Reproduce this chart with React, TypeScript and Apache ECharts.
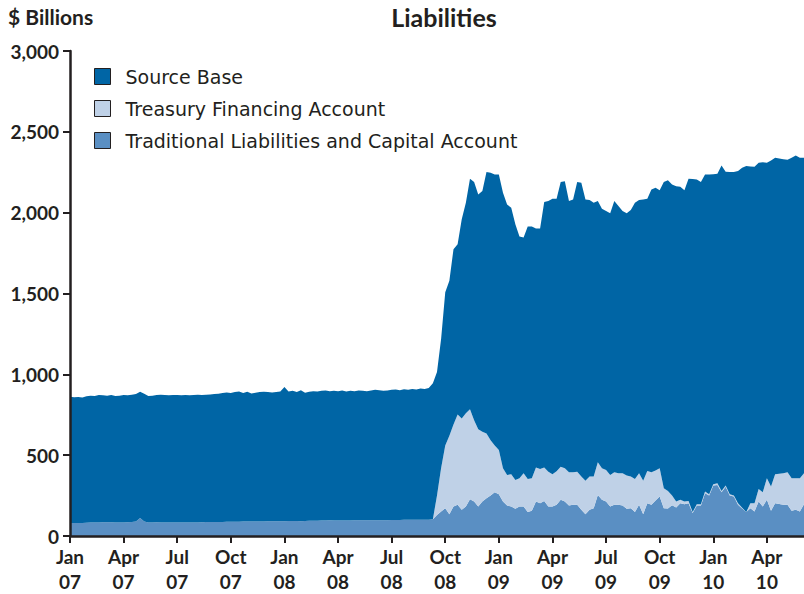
import React, { useEffect, useRef } from "react";
import * as echarts from "echarts";

// Weekly observations, first week of Jan 2007 through early Jun 2010 (179 weeks)
const quarterLabels = [
  "Jan\n07", "Apr\n07", "Jul\n07", "Oct\n07",
  "Jan\n08", "Apr\n08", "Jul\n08", "Oct\n08",
  "Jan\n09", "Apr\n09", "Jul\n09", "Oct\n09",
  "Jan\n10", "Apr\n10",
];
const weeksPerQuarter = 13;

const traditional = [
  80, 80, 81, 81, 82, 83, 84, 84, 85, 85, 85, 84, 84,
  84, 85, 86, 90, 112, 90, 84, 84, 85, 84, 84, 83, 83,
  84, 84, 83, 83, 83, 84, 85, 86, 86, 86, 87, 87, 88,
  88, 88, 88, 89, 89, 90, 90, 90, 90, 91, 91, 92, 92,
  92, 93, 93, 93, 92, 93, 94, 94, 95, 96, 96, 97, 96,
  96, 96, 96, 96, 97, 97, 97, 98, 97, 98, 98, 98, 98,
  99, 99, 99, 100, 100, 100, 100, 100, 100, 100, 104,
  130, 152, 172, 135, 183, 193, 162, 183, 228, 214, 183, 214, 234,
  251, 271, 259, 214, 189, 183, 168, 183, 183, 148, 156, 214, 203,
  217, 183, 183, 193, 224, 214, 189, 193, 193, 162, 135, 162, 172,
  254, 224, 214, 183, 193, 193, 189, 168, 172, 148, 193, 135, 203,
  193, 220, 245, 172, 170, 190, 177, 203, 197, 203, 142, 189, 189,
  265, 251, 312, 316, 271, 304, 251, 245, 193, 170, 148, 172, 152,
  214, 183, 224, 156, 203, 198, 193, 193, 156, 162, 152, 197,
];

const treasuryFinancing = [
  0, 0, 0, 0, 0, 0, 0, 0, 0, 0, 0, 0, 0,
  0, 0, 0, 0, 0, 0, 0, 0, 0, 0, 0, 0, 0,
  0, 0, 0, 0, 0, 0, 0, 0, 0, 0, 0, 0, 0,
  0, 0, 0, 0, 0, 0, 0, 0, 0, 0, 0, 0, 0,
  0, 0, 0, 0, 0, 0, 0, 0, 0, 0, 0, 0, 0,
  0, 0, 0, 0, 0, 0, 0, 0, 0, 0, 0, 0, 0,
  0, 0, 0, 0, 0, 0, 0, 0, 0, 0, 0,
  120, 268, 388, 485, 507, 559, 565, 577, 556, 502, 478, 431, 400,
  342, 289, 273, 205, 189, 199, 179, 174, 205, 205, 201, 209, 212,
  206, 215, 199, 207, 205, 205, 205, 201, 205, 206, 206, 206, 196,
  202, 195, 194, 195, 201, 195, 199, 206, 196, 205, 195, 206, 199,
  201, 185, 174, 124, 109, 60, 37, 21, 17, 14, 6, 8, 8,
  10, 8, 8, 10, 8, 8, 8, 6, 10, 5, 0, 31, 51,
  77, 88, 133, 150, 179, 187, 195, 201, 201, 195, 205, 191,
];

const sourceBase = [
  782, 778, 779, 775, 782, 785, 782, 788, 785, 783, 787, 782, 784,
  788, 785, 788, 788, 780, 790, 782, 784, 787, 790, 788, 787, 789,
  788, 786, 789, 787, 789, 790, 787, 788, 790, 792, 793, 797, 800,
  796, 802, 806, 795, 803, 792, 796, 800, 802, 799, 797, 798, 802,
  830, 801, 805, 797, 810, 793, 798, 802, 799, 802, 804, 799, 802,
  800, 804, 798, 802, 799, 803, 801, 798, 803, 806, 804, 800, 802,
  805, 807, 803, 808, 804, 810, 806, 812, 810, 815, 841,
  764, 800, 947, 959, 1084, 1053, 1232, 1302, 1426, 1473, 1452, 1489, 1617,
  1654, 1676, 1704, 1704, 1673, 1649, 1581, 1495, 1458, 1561, 1557, 1479, 1487,
  1643, 1674, 1704, 1686, 1760, 1776, 1678, 1688, 1791, 1817, 1741, 1710, 1694,
  1616, 1606, 1602, 1618, 1678, 1653, 1622, 1622, 1648, 1709, 1690, 1741, 1684,
  1750, 1749, 1720, 1893, 1922, 1924, 1950, 1936, 1925, 1993, 2060, 2008, 1992,
  1961, 1977, 1918, 1914, 2013, 1941, 1993, 2000, 2054, 2103, 2140, 2083, 2081,
  2017, 2041, 1951, 2016, 1957, 1950, 1942, 1934, 1982, 1996, 1982, 1951,
];

const yTicks = [0, 500, 1000, 1500, 2000, 2500, 3000];

const weekIndex = sourceBase.map((_, i) => String(i));

const INK = "#231f20";
const FONT = "Lato, 'Open Sans', sans-serif";
const LEGEND_FONT = "'DejaVu Sans', 'Open Sans', sans-serif";

export default function App() {
  const ref = useRef<HTMLDivElement>(null);
  useEffect(() => {
    if (!ref.current) return;
    const chart = echarts.init(ref.current, undefined, { renderer: "svg" });
    const isQuarter = (i: number) => i % weeksPerQuarter === 0 && i / weeksPerQuarter < quarterLabels.length;
    chart.setOption({
      animation: false,
      backgroundColor: "#ffffff",
      textStyle: { fontFamily: FONT, color: INK },
      title: {
        text: "Liabilities",
        left: 444,
        top: 4,
        padding: 0,
        textAlign: "center",
        textStyle: { fontFamily: FONT, fontSize: 25, fontWeight: "bold", color: INK },
      },
      graphic: [
        {
          type: "text",
          left: 8,
          top: 6,
          style: { text: "$ Billions", font: `bold 21px ${FONT}`, fill: INK },
        },
      ],
      legend: {
        orient: "vertical",
        left: 94,
        top: 67,
        padding: 0,
        itemWidth: 16,
        itemHeight: 16,
        itemGap: 13,
        icon: "rect",
        data: ["Source Base", "Treasury Financing Account", "Traditional Liabilities and Capital Account"],
        itemStyle: { borderColor: INK, borderWidth: 1 },
        textStyle: { fontFamily: LEGEND_FONT, fontSize: 19, lineHeight: 18, color: INK, padding: [0, 0, 0, 10] },
      },
      grid: { left: 70, right: 0, top: 51, bottom: 56, containLabel: false },
      xAxis: {
        type: "category",
        data: weekIndex,
        boundaryGap: false,
        z: 10,
        axisLine: { show: true, lineStyle: { color: INK, width: 2.5 } },
        axisTick: {
          show: true,
          length: 7,
          interval: (i: number) => isQuarter(i),
          lineStyle: { color: INK, width: 2 },
        },
        axisLabel: {
          interval: (i: number) => isQuarter(i),
          formatter: (_v: string, i: number) => quarterLabels[Math.floor(i / weeksPerQuarter)] ?? "",
          fontFamily: FONT,
          fontSize: 19,
          fontWeight: "bold",
          color: INK,
          lineHeight: 25,
          margin: 8,
        },
        splitLine: { show: false },
      },
      yAxis: {
        type: "value",
        min: yTicks[0],
        max: yTicks[yTicks.length - 1],
        interval: 500,
        z: 10,
        axisLine: { show: true, lineStyle: { color: INK, width: 2.5 } },
        axisTick: { show: true, length: 7, lineStyle: { color: INK, width: 2 } },
        axisLabel: {
          formatter: (v: number) => v.toLocaleString("en-US"),
          fontFamily: FONT,
          fontSize: 19,
          fontWeight: "bold",
          color: INK,
          margin: 11,
        },
        splitLine: { show: false },
      },
      series: [
        {
          name: "Traditional Liabilities and Capital Account",
          type: "line",
          stack: "total",
          data: traditional,
          symbol: "none",
          lineStyle: { width: 0 },
          itemStyle: { color: "#5a8fc3" },
          areaStyle: { color: "#5a8fc3", opacity: 1 },
        },
        {
          name: "Treasury Financing Account",
          type: "line",
          stack: "total",
          data: treasuryFinancing,
          symbol: "none",
          lineStyle: { width: 0 },
          itemStyle: { color: "#bfd1e7" },
          areaStyle: { color: "#bfd1e7", opacity: 1 },
        },
        {
          name: "Source Base",
          type: "line",
          stack: "total",
          data: sourceBase,
          symbol: "none",
          lineStyle: { width: 0 },
          itemStyle: { color: "#0065a5" },
          areaStyle: { color: "#0065a5", opacity: 1 },
        },
      ],
    });
    return () => chart.dispose();
  }, []);
  return (
    <div
      ref={ref}
      style={{ position: "fixed", left: 0, top: 0, width: 804, height: 594 }}
    />
  );
}
